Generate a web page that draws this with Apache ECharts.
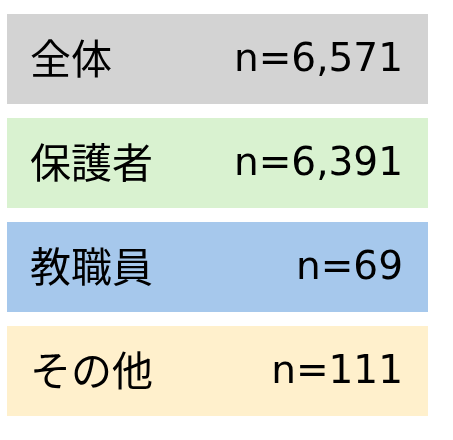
<!DOCTYPE html>
<html>
<head>
<meta charset="utf-8">
<script src="https://cdn.jsdelivr.net/npm/echarts@6/dist/echarts.min.js"></script>
<style>html,body{margin:0;padding:0;background:#fff;}#c{width:453px;height:440px;}</style>
</head>
<body>
<div id="c"></div>
<script>
const categories = ['全体', '保護者', '教職員', 'その他'];
const counts = ['n=6,571', 'n=6,391', 'n=69', 'n=111'];
const boxValues = [1, 1, 1, 1];
const colors = ['#d3d3d3', '#d9f2d0', '#a6c8ec', '#fff0cc'];

const font = "'DejaVu Sans', 'Noto Sans CJK JP', sans-serif";
const chart = echarts.init(document.getElementById('c'));
chart.setOption({
  animation: false,
  grid: { left: 7, right: 25, top: 7, bottom: 17 },
  xAxis: { type: 'value', min: 0, max: 1, show: false },
  yAxis: { type: 'category', data: categories, inverse: true, show: false },
  series: [
    {
      type: 'bar',
      barWidth: 90,
      data: boxValues.map((v, i) => ({ value: v, itemStyle: { color: colors[i] } })),
      label: {
        show: true, position: 'insideLeft', distance: 23, offset: [0, -1],
        formatter: p => categories[p.dataIndex],
        color: '#000', fontSize: 41, fontFamily: "'Noto Sans CJK JP', sans-serif"
      }
    },
    {
      type: 'bar',
      barWidth: 90,
      barGap: '-100%',
      data: boxValues.map(v => ({ value: v, itemStyle: { color: 'rgba(0,0,0,0)' } })),
      label: {
        show: true, position: 'insideRight', distance: 25, offset: [0, 2],
        formatter: p => counts[p.dataIndex],
        color: '#000', fontSize: 39, fontFamily: font
      }
    }
  ]
});
</script>
</body>
</html>
